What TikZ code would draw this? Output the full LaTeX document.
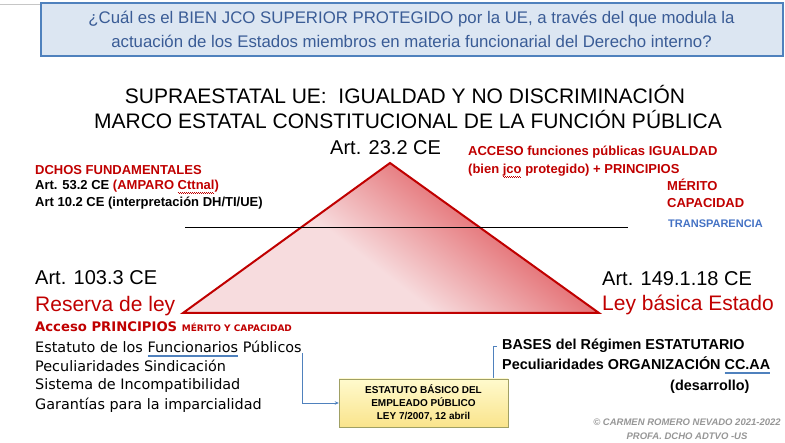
\documentclass[tikz,border=0pt]{standalone}
\usepackage{fontspec}
\setmainfont{Liberation Sans}
\newfontfamily\vfont{DejaVu Sans}
\usetikzlibrary{arrows.meta}
\pgfdeclarelayer{edgelayer}
\pgfdeclarelayer{nodelayer}
\pgfsetlayers{edgelayer,nodelayer,main}
\definecolor{hdrfill}{RGB}{220,230,242}
\definecolor{hdrline}{RGB}{79,129,189}
\definecolor{hdrtext}{RGB}{58,92,150}
\definecolor{dred}{RGB}{192,0,0}
\definecolor{tblue}{RGB}{68,114,196}
\definecolor{trilight}{RGB}{247,220,222}
\definecolor{tridark}{RGB}{228,112,116}
\definecolor{boxtop}{RGB}{255,250,205}
\definecolor{boxbot}{RGB}{250,228,140}
\definecolor{boxline}{RGB}{160,160,100}
\definecolor{cpgrey}{RGB}{150,150,150}
\pgfdeclareverticalshading{trishade}{100bp}{color(0bp)=(trilight); color(44bp)=(trilight); color(64bp)=(tridark); color(100bp)=(tridark)}
\newsavebox\wordbox
\newcommand\spellmark[1]{\sbox\wordbox{#1}\rlap{\color{hdrline}\rule[-2.2pt]{\wd\wordbox}{0.5pt}}\rlap{\color{hdrline}\rule[-3.6pt]{\wd\wordbox}{0.5pt}}\usebox\wordbox}
\newcommand\wavymark[1]{\sbox\wordbox{#1}\rlap{\color{dred}\leaders\hbox{\rule[-2.4pt]{1pt}{0.5pt}\rule[-3.2pt]{1pt}{0.5pt}}\hskip\wd\wordbox}\usebox\wordbox}
\tikzstyle{edge}=[draw=black, line width=1pt]
\tikzstyle{header}=[draw=hdrline, line width=2pt, fill=hdrfill, text=hdrtext, minimum width=742pt, minimum height=53pt, inner sep=0pt, align=center, font=\fontsize{16.8}{24}\selectfont]
\tikzstyle{title}=[anchor=base, inner sep=0pt, font=\fontsize{21}{24}\selectfont]
\tikzstyle{artbig}=[anchor=base west, inner sep=0pt, font=\fontsize{20}{24}\selectfont]
\tikzstyle{lawbig}=[anchor=base west, inner sep=0pt, text=dred, font=\fontsize{21}{24}\selectfont]
\tikzstyle{small}=[anchor=base west, inner sep=0pt, font=\bfseries\fontsize{13}{15}\selectfont]
\tikzstyle{smallred}=[small, text=dred]
\tikzstyle{item}=[anchor=base west, inner sep=0pt, font=\vfont\fontsize{14.4}{16}\selectfont]
\tikzstyle{itemred}=[anchor=base west, inner sep=0pt, text=dred, font=\vfont\bfseries\fontsize{13.2}{16}\selectfont]
\tikzstyle{bases}=[anchor=base west, inner sep=0pt, font=\bfseries\fontsize{14.4}{17}\selectfont]
\tikzstyle{ebep}=[draw=boxline, top color=boxtop, bottom color=boxbot, minimum width=169pt, minimum height=48pt, inner sep=0pt, align=center, font=\bfseries\fontsize{10}{13}\selectfont]
\tikzstyle{conn}=[draw=hdrline, line width=0.8pt, -{Stealth[length=4pt,width=3.5pt]}]
\tikzstyle{copyr}=[anchor=base, inner sep=0pt, text=cpgrey, font=\bfseries\itshape\fontsize{9.5}{12}\selectfont]

\begin{document}
\begin{tikzpicture}[x=1pt, y=-1pt]
	\useasboundingbox (0,0) rectangle (785,443);
	\begin{pgfonlayer}{nodelayer}
		\node [style=header] (0) at (411.5, 29.5) {¿Cuál es el BIEN JCO SUPERIOR PROTEGIDO por la UE, a través del que modula la\\actuación de los Estados miembros en materia funcionarial del Derecho interno?};
		\node [style=title] (1) at (405, 103.5) {SUPRAESTATAL UE:\ \ IGUALDAD Y NO DISCRIMINACIÓN};
		\node [style=title] (2) at (408, 128.5) {MARCO ESTATAL CONSTITUCIONAL DE LA FUNCIÓN PÚBLICA};
		\node [style=artbig] (3) at (330, 155) {Art. 23.2 CE};
		\node [style=smallred] (4) at (35, 175) {DCHOS FUNDAMENTALES};
		\node [style=small] (5) at (35, 190) {Art. 53.2 CE \textcolor{dred}{(AMPARO \wavymark{Cttnal})}};
		\node [style=small] (6) at (35, 207) {Art 10.2 CE (interpretación DH/TI/UE)};
		\node [style=smallred] (7) at (468, 156) {ACCESO funciones públicas IGUALDAD};
		\node [style=smallred] (8) at (468, 174) {(bien \wavymark{jco} protegido) + PRINCIPIOS};
		\node [style=smallred] (9) at (667, 191) {MÉRITO};
		\node [style=smallred] (10) at (667, 208) {CAPACIDAD};
		\node [style=small, text=tblue, font=\bfseries\fontsize{11}{13}\selectfont] (11) at (668, 228) {TRANSPARENCIA};
		\node [style=artbig] (12) at (35, 285) {Art. 103.3 CE};
		\node [style=lawbig] (13) at (35, 312) {Reserva de ley};
		\node [style=artbig] (14) at (602, 286) {Art. 149.1.18 CE};
		\node [style=lawbig] (15) at (602, 311) {Ley básica Estado};
		\node [style=itemred] (16) at (35, 332) {Acceso PRINCIPIOS {\fontsize{9}{10}\selectfont MÉRITO Y CAPACIDAD}};
		\node [style=item] (17) at (35, 353) {Estatuto de los \spellmark{Funcionarios} Públicos};
		\node [style=item] (18) at (35, 372) {Peculiaridades Sindicación};
		\node [style=item] (19) at (35, 390) {Sistema de Incompatibilidad};
		\node [style=item] (20) at (35, 410) {Garantías para la imparcialidad};
		\node [style=bases] (21) at (502, 350) {BASES del Régimen ESTATUTARIO};
		\node [style=bases] (22) at (502, 370) {Peculiaridades ORGANIZACIÓN \spellmark{CC.AA}};
		\node [style=bases] (23) at (670, 391) {(desarrollo)};
		\node [style=ebep] (24) at (423.5, 403) {ESTATUTO BÁSICO DEL\\EMPLEADO PÚBLICO\\LEY 7/2007, 12 abril};
		\node [style=copyr] (25) at (687, 426) {© CARMEN ROMERO NEVADO 2021-2022};
		\node [style=copyr] (26) at (687, 440) {PROFA. DCHO ADTVO -US};
	\end{pgfonlayer}
	\begin{pgfonlayer}{edgelayer}
		\coordinate (27) at (390, 163);
		\coordinate (28) at (183, 313);
		\coordinate (29) at (599, 313);
		\coordinate (30) at (185, 228);
		\coordinate (31) at (628, 228);
		\coordinate (32) at (497, 346);
		\coordinate (33) at (497, 388);
		\draw [gray!45, line width=1pt] (0,5) -- (40,5);
		\shade [shading=trishade, shading angle=-38] (27) -- (28) -- (29) -- cycle;
		\draw [draw=dred, line width=2pt, line join=miter] (27) -- (28) -- (29) -- cycle;
		\draw [style=edge] (30) to (31);
		\draw [style=conn] (17.base east) |- (24.west);
		\draw [style=conn] (32) -- ++(-4,0) |- (33);
	\end{pgfonlayer}
\end{tikzpicture}
\end{document}
